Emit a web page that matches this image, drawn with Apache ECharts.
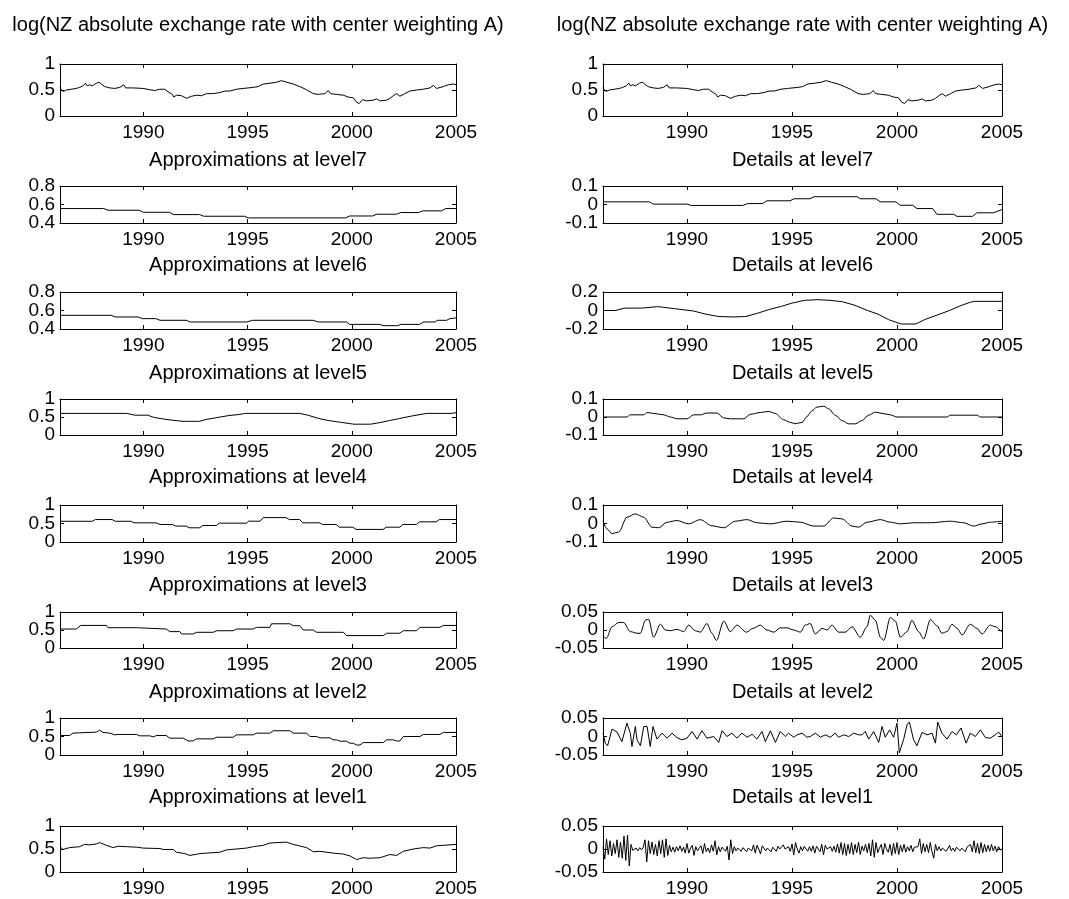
<!DOCTYPE html>
<html><head><meta charset="utf-8">
<script src="https://cdn.jsdelivr.net/npm/echarts@6/dist/echarts.min.js"></script>
<style>html,body{margin:0;padding:0;background:#fff}#c{width:1069px;height:899px}</style>
</head><body><div id="c"></div>
<script>
// ---------- data (year, value) ----------
const rawSeries = [[1986.00,0.55],[1986.08,0.49],[1986.18,0.475],[1986.30,0.5],[1986.54,0.515],[1986.78,0.53],[1986.94,0.55],[1987.10,0.58],[1987.18,0.6],[1987.23,0.63],[1987.30,0.58],[1987.42,0.6],[1987.55,0.58],[1987.74,0.63],[1987.87,0.65],[1987.98,0.615],[1988.15,0.565],[1988.39,0.54],[1988.63,0.53],[1988.87,0.55],[1989.06,0.6],[1989.15,0.54],[1989.51,0.54],[1989.99,0.53],[1990.31,0.505],[1990.55,0.49],[1990.79,0.515],[1991.03,0.515],[1991.19,0.465],[1991.39,0.415],[1991.46,0.365],[1991.59,0.4],[1991.83,0.39],[1992.07,0.34],[1992.31,0.38],[1992.55,0.4],[1992.79,0.39],[1993.03,0.43],[1993.35,0.43],[1993.67,0.45],[1993.91,0.48],[1994.15,0.48],[1994.47,0.515],[1994.79,0.53],[1995.27,0.55],[1995.51,0.565],[1995.75,0.615],[1996.07,0.63],[1996.39,0.65],[1996.63,0.68],[1996.87,0.65],[1997.19,0.615],[1997.51,0.565],[1997.83,0.505],[1998.15,0.43],[1998.39,0.415],[1998.71,0.43],[1998.87,0.49],[1998.98,0.43],[1999.27,0.415],[1999.59,0.4],[1999.83,0.365],[2000.07,0.35],[2000.23,0.265],[2000.36,0.24],[2000.52,0.315],[2000.71,0.29],[2001.03,0.305],[2001.19,0.33],[2001.35,0.29],[2001.67,0.305],[2001.83,0.34],[2001.99,0.39],[2002.15,0.43],[2002.31,0.38],[2002.55,0.43],[2002.79,0.48],[2003.11,0.5],[2003.43,0.515],[2003.75,0.54],[2003.91,0.59],[2004.07,0.53],[2004.39,0.565],[2004.63,0.6],[2004.87,0.615],[2005.00,0.6]];

const approx7 = [[1986.0,0.556],[1988.1,0.556],[1988.3,0.538],[1989.8,0.538],[1990.0,0.516],[1991.25,0.516],[1991.45,0.491],[1992.7,0.491],[1992.9,0.473],[1994.85,0.473],[1995.05,0.455],[1999.7,0.455],[1999.9,0.476],[2001.0,0.476],[2001.2,0.495],[2002.15,0.495],[2002.35,0.513],[2003.2,0.513],[2003.4,0.531],[2004.3,0.531],[2004.5,0.556],[2005.0,0.556]];

const approx6 = [[1986.0,0.548],[1988.45,0.548],[1988.65,0.53],[1989.75,0.53],[1989.95,0.512],[1990.6,0.512],[1990.8,0.494],[1992.05,0.494],[1992.25,0.476],[1994.95,0.476],[1995.25,0.494],[1998.15,0.494],[1998.4,0.476],[1999.75,0.476],[1999.9,0.45],[2001.35,0.45],[2001.5,0.436],[2002.2,0.436],[2002.35,0.45],[2003.25,0.45],[2003.45,0.476],[2004.0,0.476],[2004.1,0.494],[2004.55,0.494],[2004.7,0.512],[2005.0,0.52]];

const approx5 = [[1986.0,0.6],[1989.2,0.6],[1989.6,0.55],[1990.2,0.55],[1990.5,0.49],[1990.9,0.45],[1991.4,0.41],[1991.9,0.38],[1992.7,0.38],[1993.0,0.43],[1993.5,0.48],[1994.1,0.54],[1994.6,0.57],[1994.9,0.6],[1997.5,0.6],[1997.9,0.55],[1998.4,0.46],[1998.9,0.4],[1999.5,0.35],[2000.1,0.3],[2000.9,0.3],[2001.4,0.35],[2001.8,0.4],[2002.3,0.46],[2002.9,0.53],[2003.6,0.6],[2004.8,0.6],[2005.0,0.62]];

const approx4 = [[1986.0,0.56],[1987.55,0.56],[1987.7,0.607],[1988.5,0.607],[1988.65,0.56],[1989.4,0.56],[1989.55,0.518],[1990.6,0.518],[1990.8,0.473],[1991.4,0.473],[1991.55,0.43],[1992.05,0.43],[1992.2,0.384],[1992.7,0.384],[1992.85,0.446],[1993.5,0.446],[1993.65,0.509],[1994.95,0.509],[1995.05,0.5625],[1995.6,0.5625],[1995.75,0.66],[1996.85,0.66],[1997.0,0.607],[1997.5,0.607],[1997.65,0.518],[1998.45,0.518],[1998.6,0.473],[1999.25,0.473],[1999.4,0.4],[2000.05,0.4],[2000.2,0.34],[2001.5,0.34],[2001.65,0.4],[2002.3,0.4],[2002.45,0.473],[2003.1,0.473],[2003.25,0.545],[2004.05,0.545],[2004.2,0.607],[2005.0,0.607]];

const approx3 = [[1986.0,0.527],[1986.78,0.527],[1987.0,0.627],[1988.23,0.627],[1988.31,0.564],[1989.67,0.564],[1989.75,0.527],[1991.1,0.527],[1991.27,0.455],[1991.75,0.455],[1991.83,0.39],[1992.39,0.39],[1992.55,0.436],[1993.35,0.436],[1993.51,0.48],[1994.31,0.48],[1994.47,0.527],[1995.27,0.527],[1995.43,0.573],[1996.07,0.573],[1996.15,0.673],[1997.03,0.673],[1997.19,0.62],[1997.51,0.62],[1997.67,0.5],[1998.15,0.5],[1998.31,0.436],[1999.59,0.436],[1999.75,0.345],[2001.51,0.345],[2001.67,0.41],[2002.31,0.41],[2002.47,0.48],[2003.11,0.48],[2003.27,0.573],[2004.23,0.573],[2004.39,0.627],[2005.0,0.627]];

const approx2 = [[1986.0,0.527],[1986.46,0.527],[1986.62,0.59],[1986.94,0.6],[1987.02,0.618],[1987.74,0.618],[1987.9,0.67],[1988.06,0.61],[1988.39,0.59],[1988.63,0.545],[1988.79,0.555],[1989.67,0.555],[1989.83,0.518],[1990.31,0.518],[1990.47,0.49],[1990.63,0.527],[1991.1,0.527],[1991.27,0.455],[1991.91,0.455],[1992.15,0.38],[1992.39,0.38],[1992.55,0.436],[1993.35,0.436],[1993.51,0.48],[1994.31,0.48],[1994.47,0.545],[1995.27,0.545],[1995.43,0.59],[1996.07,0.59],[1996.23,0.655],[1997.03,0.655],[1997.19,0.59],[1997.83,0.59],[1997.99,0.5],[1998.31,0.5],[1998.47,0.464],[1998.95,0.464],[1999.11,0.41],[1999.27,0.41],[1999.43,0.373],[1999.75,0.373],[1999.91,0.318],[2000.07,0.318],[2000.23,0.27],[2000.39,0.27],[2000.55,0.336],[2001.51,0.336],[2001.67,0.41],[2001.99,0.41],[2002.15,0.38],[2002.31,0.38],[2002.47,0.5],[2003.27,0.5],[2003.43,0.555],[2004.23,0.555],[2004.39,0.61],[2005.0,0.61]];

const approx1 = [[1986.0,0.55],[1986.14,0.49],[1986.46,0.53],[1986.94,0.55],[1987.18,0.6],[1987.42,0.59],[1987.74,0.61],[1987.9,0.64],[1988.23,0.58],[1988.55,0.53],[1988.79,0.56],[1989.19,0.55],[1989.67,0.54],[1989.99,0.52],[1990.79,0.51],[1990.95,0.49],[1991.43,0.49],[1991.59,0.43],[1991.99,0.4],[1992.23,0.36],[1992.71,0.4],[1993.67,0.43],[1993.99,0.48],[1994.95,0.52],[1995.27,0.55],[1995.75,0.58],[1996.07,0.63],[1996.87,0.65],[1997.19,0.6],[1997.83,0.53],[1998.15,0.44],[1998.47,0.45],[1999.11,0.41],[1999.59,0.39],[1999.91,0.35],[2000.23,0.27],[2000.55,0.31],[2000.87,0.3],[2001.35,0.31],[2001.83,0.38],[2002.15,0.36],[2002.47,0.45],[2002.95,0.5],[2003.43,0.53],[2003.75,0.52],[2004.07,0.57],[2004.39,0.58],[2005.0,0.6]];

const detail7 = [[1986.0,0.0145],[1988.2,0.0145],[1988.4,0.002],[1990.0,0.002],[1990.2,-0.005],[1992.65,-0.005],[1992.9,0.005],[1993.6,0.005],[1993.8,0.02],[1994.9,0.02],[1995.1,0.031],[1995.85,0.031],[1996.05,0.042],[1998.1,0.042],[1998.25,0.031],[1999.0,0.031],[1999.2,0.0145],[1999.95,0.0145],[2000.15,-0.004],[2000.75,-0.004],[2000.95,-0.022],[2001.7,-0.022],[2001.9,-0.053],[2002.7,-0.053],[2002.85,-0.064],[2003.6,-0.064],[2003.8,-0.045],[2004.6,-0.045],[2005.0,-0.027]];

const detail6 = [[1986.0,0.0],[1986.6,0.0],[1987.0,0.025],[1987.9,0.027],[1988.6,0.042],[1989.4,0.02],[1990.3,-0.005],[1990.9,-0.04],[1991.5,-0.065],[1992.2,-0.07],[1992.8,-0.065],[1993.3,-0.034],[1993.9,0.01],[1994.5,0.045],[1995.0,0.08],[1995.6,0.11],[1996.2,0.117],[1996.8,0.11],[1997.4,0.095],[1998.0,0.056],[1998.6,0.0],[1999.1,-0.04],[1999.6,-0.099],[2000.2,-0.146],[2000.9,-0.146],[2001.3,-0.1],[2001.9,-0.05],[2002.5,0.0],[2003.0,0.05],[2003.5,0.09],[2003.7,0.099],[2005.0,0.099]];

const detail5 = [[1986.0,0],[1987.14,0],[1987.3,0.012],[1987.94,0.012],[1988.1,0.025],[1988.41,0.02],[1988.89,0.012],[1989.21,0.0],[1989.52,-0.01],[1990.0,-0.01],[1990.32,0.012],[1990.63,0.012],[1990.95,0.022],[1991.43,0.022],[1991.75,-0.005],[1992.06,-0.01],[1992.7,-0.01],[1993.02,0.015],[1993.49,0.025],[1993.89,0.031],[1994.2,0.02],[1994.6,-0.015],[1994.92,-0.03],[1995.16,-0.037],[1995.48,-0.03],[1995.71,0.002],[1995.95,0.035],[1996.19,0.055],[1996.51,0.06],[1996.75,0.045],[1997.06,0.01],[1997.38,-0.02],[1997.7,-0.038],[1998.02,-0.038],[1998.33,-0.02],[1998.65,0.01],[1998.97,0.027],[1999.29,0.02],[1999.68,0.012],[2000.0,0.0],[2002.38,0.0],[2002.54,0.01],[2003.81,0.01],[2003.97,0.0],[2005.0,0.0]];

const detail4 = [[1986.0,0.0125],[1986.19,-0.029],[1986.43,-0.055],[1986.75,-0.046],[1987.14,0.034],[1987.54,0.052],[1987.94,0.034],[1988.33,-0.02],[1988.65,-0.023],[1989.05,0.007],[1989.52,0.016],[1990.08,-0.002],[1990.63,0.021],[1991.19,-0.0125],[1991.75,-0.023],[1992.3,0.0125],[1992.86,0.021],[1993.33,0.004],[1993.97,-0.002],[1994.76,0.0125],[1995.4,0.007],[1996.03,-0.014],[1996.51,-0.014],[1996.98,0.03],[1997.38,0.025],[1997.86,-0.014],[1998.17,-0.02],[1998.57,0.007],[1999.21,0.021],[1999.68,0.007],[2000.16,-0.002],[2000.79,0.004],[2001.59,0.004],[2002.54,0.0125],[2003.17,0.004],[2003.65,-0.014],[2004.05,-0.002],[2004.44,0.007],[2005.0,0.0125]];

const detail3 = [[1986.0,-0.018],[1986.16,-0.023],[1986.43,0.009],[1986.75,0.021],[1986.98,0.021],[1987.3,-0.0045],[1987.62,-0.009],[1987.78,-0.009],[1988.02,0.027],[1988.17,0.03],[1988.41,-0.02],[1988.73,0.016],[1988.97,0.0],[1989.21,-0.002],[1989.52,0.002],[1989.84,-0.0045],[1990.08,0.0136],[1990.4,-0.002],[1990.63,-0.006],[1990.95,0.018],[1991.19,-0.009],[1991.4,-0.029],[1991.75,0.025],[1992.06,-0.0045],[1992.38,0.0136],[1992.83,-0.006],[1993.14,0.0045],[1993.49,0.0136],[1993.81,0.0],[1994.13,-0.006],[1994.44,0.006],[1994.76,0.006],[1995.08,0.0],[1995.4,-0.006],[1995.63,0.0136],[1995.87,0.018],[1996.11,-0.011],[1996.43,0.0045],[1996.67,0.0],[1996.9,0.0136],[1997.22,-0.006],[1997.54,-0.006],[1997.86,0.009],[1998.25,-0.02],[1998.57,0.009],[1998.73,0.041],[1998.97,0.027],[1999.21,-0.02],[1999.37,-0.029],[1999.68,0.0345],[1999.92,0.025],[2000.16,-0.02],[2000.48,-0.0045],[2000.71,0.027],[2001.03,-0.0045],[2001.27,-0.025],[2001.59,0.029],[2001.9,0.012],[2002.14,-0.009],[2002.38,-0.0045],[2002.62,0.016],[2002.86,0.0045],[2003.1,-0.0136],[2003.49,0.016],[2003.81,0.0045],[2004.05,-0.011],[2004.44,0.0136],[2004.68,0.009],[2005.0,-0.006]];

const detail2 = [[1986.0,0.009],[1986.11,-0.018],[1986.22,-0.025],[1986.43,0.02],[1986.67,0.012],[1986.9,-0.014],[1987.14,0.036],[1987.3,0.009],[1987.38,-0.027],[1987.54,0.027],[1987.62,-0.009],[1987.78,-0.025],[1987.94,0.027],[1988.1,0.027],[1988.25,-0.027],[1988.38,0.027],[1988.57,-0.007],[1988.81,0.009],[1989.05,-0.0045],[1989.29,0.009],[1989.52,-0.003],[1989.76,-0.009],[1990.0,-0.0045],[1990.24,0.0136],[1990.48,-0.007],[1990.71,0.0155],[1990.95,-0.0045],[1991.27,0.0],[1991.51,-0.016],[1991.67,0.0155],[1991.9,0.0],[1992.14,0.009],[1992.38,-0.0045],[1992.62,0.009],[1992.86,-0.002],[1993.1,0.006],[1993.33,-0.007],[1993.57,0.0136],[1993.73,-0.014],[1993.97,0.0155],[1994.21,-0.016],[1994.44,0.0136],[1994.68,0.0],[1994.84,0.009],[1995.08,-0.002],[1995.24,0.0045],[1995.48,0.009],[1995.71,-0.002],[1995.87,0.0],[1996.11,0.009],[1996.35,-0.002],[1996.59,0.0045],[1996.83,-0.002],[1997.06,0.009],[1997.22,-0.002],[1997.46,0.0045],[1997.7,0.0],[1997.94,0.009],[1998.17,0.0045],[1998.33,0.0045],[1998.49,0.0136],[1998.65,-0.007],[1998.89,0.0136],[1999.13,-0.016],[1999.29,0.027],[1999.44,-0.002],[1999.65,0.018],[1999.84,-0.002],[2000.0,0.036],[2000.11,-0.044],[2000.32,-0.007],[2000.48,0.032],[2000.59,0.039],[2000.79,-0.009],[2000.95,-0.025],[2001.19,0.011],[2001.43,0.0045],[2001.67,0.009],[2001.83,-0.018],[2001.94,0.039],[2002.14,0.009],[2002.38,-0.007],[2002.62,0.0136],[2002.83,0.0045],[2003.05,0.023],[2003.29,-0.018],[2003.49,0.009],[2003.73,0.0],[2003.97,0.018],[2004.21,-0.003],[2004.44,-0.0045],[2004.68,0.0045],[2004.84,0.012],[2005.0,0.0]];

// Details at level1: monthly values from Jan 1986 to Jan 2005
const detail1Start = 1986;
const detail1Monthly = [
 0.005,-0.022,0.022,-0.012,0.018,-0.015,0.012,-0.01,0.02,-0.018,0.015,-0.02,
 0.028,-0.025,0.03,-0.037,0.01,-0.003,0.0,0.002,-0.004,0.003,-0.002,0.004,
 0.02,-0.028,0.018,-0.01,0.015,-0.012,0.01,-0.015,0.018,-0.01,0.02,-0.018,
 0.022,-0.014,0.008,-0.006,0.004,-0.007,0.005,-0.004,0.007,-0.005,0.004,-0.009,
 0.012,-0.009,0.002,0.008,-0.014,0.005,-0.004,0.002,0.007,-0.01,0.012,-0.006,
 0.002,-0.008,0.009,-0.005,0.018,-0.013,0.005,-0.006,0.004,0.0,-0.005,0.006,
 -0.024,0.02,-0.01,0.005,-0.004,0.002,0.004,-0.005,0.003,0.005,-0.006,0.002,
 0.004,-0.004,0.009,-0.009,0.008,0.0,-0.011,0.007,0.003,-0.004,0.002,0.005,
 -0.006,0.004,0.0,-0.005,0.006,0.0,-0.004,0.009,0.0,-0.004,0.005,-0.005,
 0.011,-0.013,0.014,0.0,-0.009,0.005,-0.004,0.006,0.0,-0.005,0.005,-0.005,
 0.007,-0.009,0.006,0.0,-0.006,0.01,-0.013,0.008,0.0,-0.004,0.005,-0.005,
 0.006,-0.007,0.011,-0.009,0.014,-0.012,0.012,-0.014,0.01,-0.01,0.014,-0.012,
 0.01,-0.008,0.015,-0.012,0.006,-0.004,0.01,-0.008,0.012,-0.015,0.02,-0.018,
 0.014,-0.008,0.002,0.01,-0.012,0.012,0.0,-0.007,0.01,-0.014,0.012,-0.01,
 0.014,-0.012,0.008,-0.006,0.01,-0.007,0.005,-0.004,0.008,-0.006,0.004,0.0,
 0.005,0.022,-0.01,0.012,-0.006,0.01,-0.008,0.014,-0.006,-0.02,0.01,-0.004,
 0.005,-0.004,0.002,0.005,-0.005,0.0,0.008,-0.004,0.002,-0.005,0.004,0.002,
 -0.004,0.002,0.005,-0.006,0.004,0.0,0.01,-0.006,0.018,-0.008,0.012,-0.01,
 0.014,-0.008,0.01,-0.006,0.008,-0.005,0.01,-0.004,0.006,-0.006,0.005,-0.002,
 0.0
];
const detail1 = detail1Monthly.map((v, i) => [detail1Start + i / 12, v]);

const xTickYears = [1990, 1995, 2000, 2005];
const mainTitle = 'log(NZ absolute exchange rate with center weighting A)';
const leftTitles = [mainTitle, 'Approximations at level7', 'Approximations at level6', 'Approximations at level5', 'Approximations at level4', 'Approximations at level3', 'Approximations at level2', 'Approximations at level1'];
const rightTitles = [mainTitle, 'Details at level7', 'Details at level6', 'Details at level5', 'Details at level4', 'Details at level3', 'Details at level2', 'Details at level1'];
const leftData = [rawSeries, approx7, approx6, approx5, approx4, approx3, approx2, approx1];
const rightData = [rawSeries, detail7, detail6, detail5, detail4, detail3, detail2, detail1];
// [min, max, interval]
const leftRanges = [[0,1,0.5],[0.4,0.8,0.2],[0.4,0.8,0.2],[0,1,0.5],[0,1,0.5],[0,1,0.5],[0,1,0.5],[0,1,0.5]];
const rightRanges = [[0,1,0.5],[-0.1,0.1,0.1],[-0.2,0.2,0.2],[-0.1,0.1,0.1],[-0.1,0.1,0.1],[-0.05,0.05,0.05],[-0.05,0.05,0.05],[-0.05,0.05,0.05]];
const rightSmooth = [false, false, false, 0.3, 0.3, 0.3, false, false];

// ---------- layout ----------
const FONT = "'Liberation Sans', Arial, Helvetica, sans-serif";
const rowTop = [64, 186, 292, 399, 505, 612, 718, 826];
const rowH   = [52, 37, 37, 36, 37, 36, 37, 46];
const titleY = [25, 160, 265, 373, 477, 585, 692, 797];
const cols = [{left: 60, width: 396}, {left: 603, width: 399}];

function fmtY(v) {
  const r = Math.round(v * 1000) / 1000;
  return String(r);
}

const grids = [], xAxes = [], yAxes = [], series = [], graphics = [];
let gi = 0;
for (let c = 0; c < 2; c++) {
  for (let r = 0; r < 8; r++) {
    const rng = c === 0 ? leftRanges[r] : rightRanges[r];
    const mid = Math.round((rng[0] + rng[2]) * 1000) / 1000;
    grids.push({left: cols[c].left, top: rowTop[r], width: cols[c].width, height: rowH[r], containLabel: false});
    const axLine = {show: true, onZero: false, lineStyle: {color: '#000', width: 1}};
    const tick = {show: true, inside: true, length: 4, lineStyle: {color: '#000', width: 1}};
    const lbl = {color: '#000', fontSize: 19, fontFamily: FONT, margin: 5, formatter: fmtY, hideOverlap: false};
    xAxes.push({type: 'value', gridIndex: gi, position: 'bottom', min: 1986, max: 2005,
      axisLine: axLine, axisTick: Object.assign({customValues: xTickYears}, tick),
      axisLabel: {customValues: xTickYears, color: '#000', fontSize: 19, fontFamily: FONT, margin: 7,
        formatter: v => String(Math.round(v)), showMinLabel: true, showMaxLabel: true, hideOverlap: false},
      splitLine: {show: false}});
    xAxes.push({type: 'value', gridIndex: gi, position: 'top', min: 1986, max: 2005,
      axisLine: axLine, axisTick: Object.assign({customValues: xTickYears}, tick),
      axisLabel: {show: false}, splitLine: {show: false}});
    // main left axis: line, ticks, min & max labels
    yAxes.push({type: 'value', gridIndex: gi, position: 'left', offset: 0, min: rng[0], max: rng[1], interval: rng[2],
      axisLine: axLine, axisTick: tick,
      axisLabel: Object.assign({customValues: [rng[0], rng[1]], showMinLabel: true, showMaxLabel: true}, lbl),
      splitLine: {show: false}});
    // right mirror axis
    yAxes.push({type: 'value', gridIndex: gi, position: 'right', offset: 0, min: rng[0], max: rng[1], interval: rng[2],
      axisLine: axLine, axisTick: tick, axisLabel: {show: false}, splitLine: {show: false}});
    // second left axis carrying only the middle label
    yAxes.push({type: 'value', gridIndex: gi, position: 'left', offset: 0, min: rng[0], max: rng[1], interval: rng[2],
      axisLine: {show: false}, axisTick: {show: false},
      axisLabel: Object.assign({customValues: [mid], showMinLabel: true, showMaxLabel: true}, lbl),
      splitLine: {show: false}});
    series.push({type: 'line', xAxisIndex: 2 * gi, yAxisIndex: 3 * gi,
      data: c === 0 ? leftData[r] : rightData[r],
      smooth: c === 0 ? false : rightSmooth[r], smoothMonotone: 'x',
      showSymbol: false, symbol: 'none', clip: true,
      lineStyle: {color: '#000', width: 1}, silent: true});
    graphics.push({type: 'text', x: cols[c].left + cols[c].width / 2, y: titleY[r],
      style: {text: c === 0 ? leftTitles[r] : rightTitles[r], fill: '#000',
        font: '20px ' + FONT, textAlign: 'center', textVerticalAlign: 'middle'}});
    gi++;
  }
}

const chart = echarts.init(document.getElementById('c'), null, {renderer: 'canvas'});
chart.setOption({
  animation: false,
  backgroundColor: '#fff',
  grid: grids, xAxis: xAxes, yAxis: yAxes, series: series,
  graphic: graphics
});
</script></body></html>
